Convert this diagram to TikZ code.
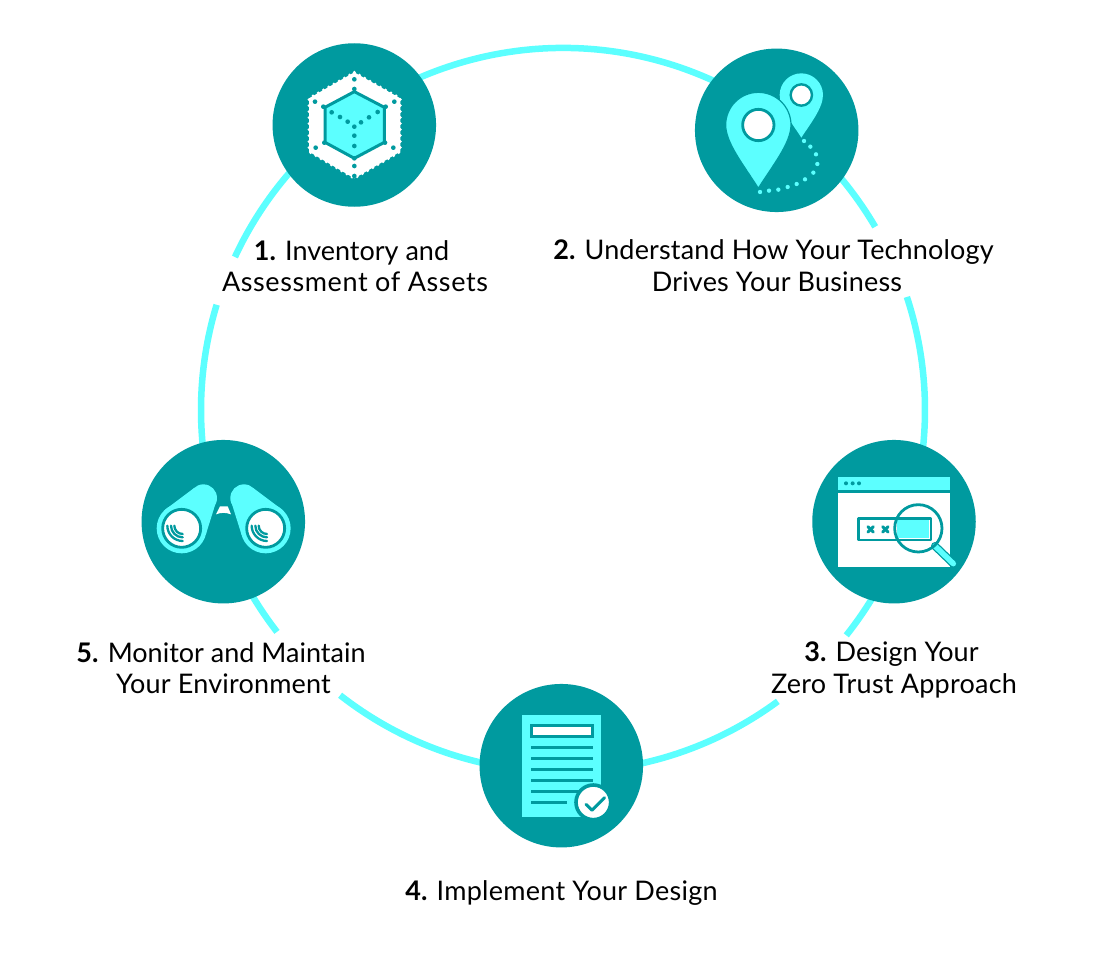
\documentclass[tikz,border=0pt]{standalone}
\usepackage{fontspec}
\usetikzlibrary{calc}
\setmainfont{Lato}
\definecolor{iconteal}{HTML}{009A9F}
\definecolor{iconcyan}{HTML}{5CFFFF}
\newcommand{\spaced}[2]{{\addfontfeature{LetterSpace=#1}#2}}
\tikzset{
  ringarc/.style={draw=iconcyan,line width=6.5pt},
  stepdisc/.style={circle,fill=iconteal,minimum size=163.5pt,inner sep=0pt},
  steplabel/.style={align=center,text=black,inner sep=0pt,font=\fontsize{27}{31.5}\selectfont},
  tealline/.style={draw=iconteal,line width=2.8pt},
  iconzone/.style={x=0.33333pt,y=-0.33333pt}
}
\begin{document}
\begin{tikzpicture}[x=1pt,y=-1pt]
\fill[white] (0,0) rectangle (1104,974);
\useasboundingbox (0,0) rectangle (1104,974);
\coordinate (hub) at (563,410);
% ring
\coordinate (ra) at ($(hub)+(-155:362)$);
\coordinate (rb) at ($(hub)+(-18.2:362)$);
\coordinate (rc) at ($(hub)+(53.6:362)$);
\coordinate (rd) at ($(hub)+(142.2:362)$);
\draw[ringarc] (ra) arc[start angle=-155,end angle=-30.4,radius=362];
\draw[ringarc] (rb) arc[start angle=-18.2,end angle=38.5,radius=362];
\draw[ringarc] (rc) arc[start angle=53.6,end angle=128,radius=362];
\draw[ringarc] (rd) arc[start angle=142.2,end angle=196.9,radius=362];
% discs
\node[stepdisc] (s1) at (354.3,125) {};
\node[stepdisc] (s2) at (776.7,130.3) {};
\node[stepdisc] (s3) at (894,521.7) {};
\node[stepdisc] (s4) at (561.3,765.7) {};
\node[stepdisc] (s5) at (223.3,521.7) {};
% labels
\node[steplabel] (l1) at (355,266) {\textbf{1.} Inventory and\kern7pt\\\spaced{2.2}{Assessment of Assets}};
\node[steplabel] (l2) at (777,265.5) {\textbf{2.} \spaced{0.6}{Understand How Your Technology}\kern7pt\\\spaced{0.7}{Drives Your Business}};
\node[steplabel] (l3) at (894,670) {\textbf{3.} Design Your\kern5pt\\\spaced{0.9}{Zero Trust Approach}};
\node[steplabel] (l4) at (561.5,893.5) {\textbf{4.} \spaced{1}{Implement Your Design}};
\node[steplabel] (l5) at (223.5,668) {\textbf{5.} Monitor and Maintain\kern5pt\\\spaced{0.7}{Your Environment}};
% icon 1
\begin{scope}[shift={(265,35)},iconzone]
  \filldraw[fill=white,draw=white,line width=3.2pt,dash pattern=on 0pt off 6pt,line cap=round,line join=round]
    (268,112) -- (406,190) -- (406,350) -- (268,430) -- (132,350) -- (132,190) -- cycle;
  \fill[white] (268,120) -- (398,195) -- (398,345) -- (268,422) -- (140,345) -- (140,195) -- cycle;
  \filldraw[fill=iconcyan,draw=iconteal,line width=3pt,line join=round]
    (268,170) -- (358,217) -- (358,322) -- (268,370) -- (180,322) -- (180,217) -- cycle;
  \foreach \p in {(268,133),(268,162),(150,200),(388,200),(152,338),(385,338),(268,393),(268,423),
    (200,232),(225,246),(248,260),(268,275),(288,262),(312,247),(338,231),(268,302),(268,333),
    (175,215),(362,215),(178,323),(360,323),(268,370)}
    \fill[iconteal] \p circle[radius=7];
\end{scope}
% icon 2
\begin{scope}[shift={(685,40)},iconzone]
  \fill[iconcyan] (349,293) .. controls (325,255) and (284,205) .. (284,165)
    arc[start angle=180,end angle=360,radius=65]
    .. controls (414,205) and (373,255) .. (349,293) -- cycle;
  \filldraw[fill=white,draw=iconteal,line width=2.4pt] (349,165) circle[radius=32];
  \filldraw[fill=iconcyan,draw=iconteal,line width=1.2pt] (220,445) .. controls (180,380) and (122,310) .. (122,255)
    arc[start angle=180,end angle=360,radius=98]
    .. controls (318,310) and (260,380) .. (220,445) -- cycle;
  \filldraw[fill=white,draw=iconteal,line width=2.8pt] (220,255) circle[radius=47];
  \foreach \p in {(357,303),(376,320),(393,343),(397,372),(385,398),(360,418),(335,432),(308,441),(280,449),(252,452),(225,456)}
    \fill[iconcyan] \p circle[radius=6.5];
\end{scope}
% icon 3
\begin{scope}[shift={(805,435)},iconzone]
  \fill[iconcyan] (100,125) rectangle (435,165);
  \fill[white] (100,173) rectangle (435,395);
  \foreach \p in {(123,145),(143,145),(162,145)} \fill[iconteal] \p circle[radius=6];
  \fill[iconcyan] (275,255) rectangle (372,310);
  \draw[tealline,line join=round] (160,250) rectangle (378,315);
  \foreach \p in {(197,283),(241,283)} {
    \draw[iconteal,line width=3pt,line cap=round] \p +(-8,-8) -- +(8,8);
    \draw[iconteal,line width=3pt,line cap=round] \p +(-8,8) -- +(8,-8);
  }
  \draw[iconteal,line width=8pt,line cap=round] (390,333) -- (445,386);
  \draw[iconcyan,line width=5.5pt,line cap=round] (390,333) -- (445,386);
  \draw[tealline] (340,280) circle[radius=71];
\end{scope}
% icon 4
\begin{scope}[shift={(470,675)},iconzone]
  \fill[iconcyan] (155,120) rectangle (392,425);
  \filldraw[fill=white,draw=iconteal,line width=3pt] (184,152) rectangle (368,184);
  \foreach \yy in {217,250,283,316,349} \draw[tealline] (183,\yy) -- (368,\yy);
  \draw[tealline] (183,382) -- (292,382);
  \filldraw[fill=white,draw=iconteal,line width=3.6pt] (370,382) circle[radius=52];
  \draw[iconteal,line width=3pt,line cap=round,line join=round] (348,388) -- (366,406) -- (404,368);
\end{scope}
% icon 5
\begin{scope}[shift={(135,435)},iconzone]
  \foreach \cx/\bx/\ta/\tb/\tc/\td in {140/205/88/176/245/212, 392/327/444/356/287/320} {
    \fill[iconcyan] (\cx,280) circle[radius=75];
    \fill[iconcyan] (\bx,189) circle[radius=41];
    \fill[iconcyan] (\ta,226) -- (\tb,160) -- (\tc,195) -- (\td,300) -- cycle;
    \filldraw[fill=white,draw=iconteal,line width=2.8pt] (\cx,280) circle[radius=57];
  }
  \foreach \cx in {143,396} \foreach \rr in {25,35,46}
    \draw[iconteal,line width=2.3pt,line cap=round] (\cx,272) ++(180:\rr) arc[start angle=180,end angle=90,radius=\rr];
  \fill[white] (243,238) -- (255,214) -- (278,214) -- (288,238) .. controls (272,232) and (258,232) .. (243,238) -- cycle;
\end{scope}
\end{tikzpicture}
\end{document}
